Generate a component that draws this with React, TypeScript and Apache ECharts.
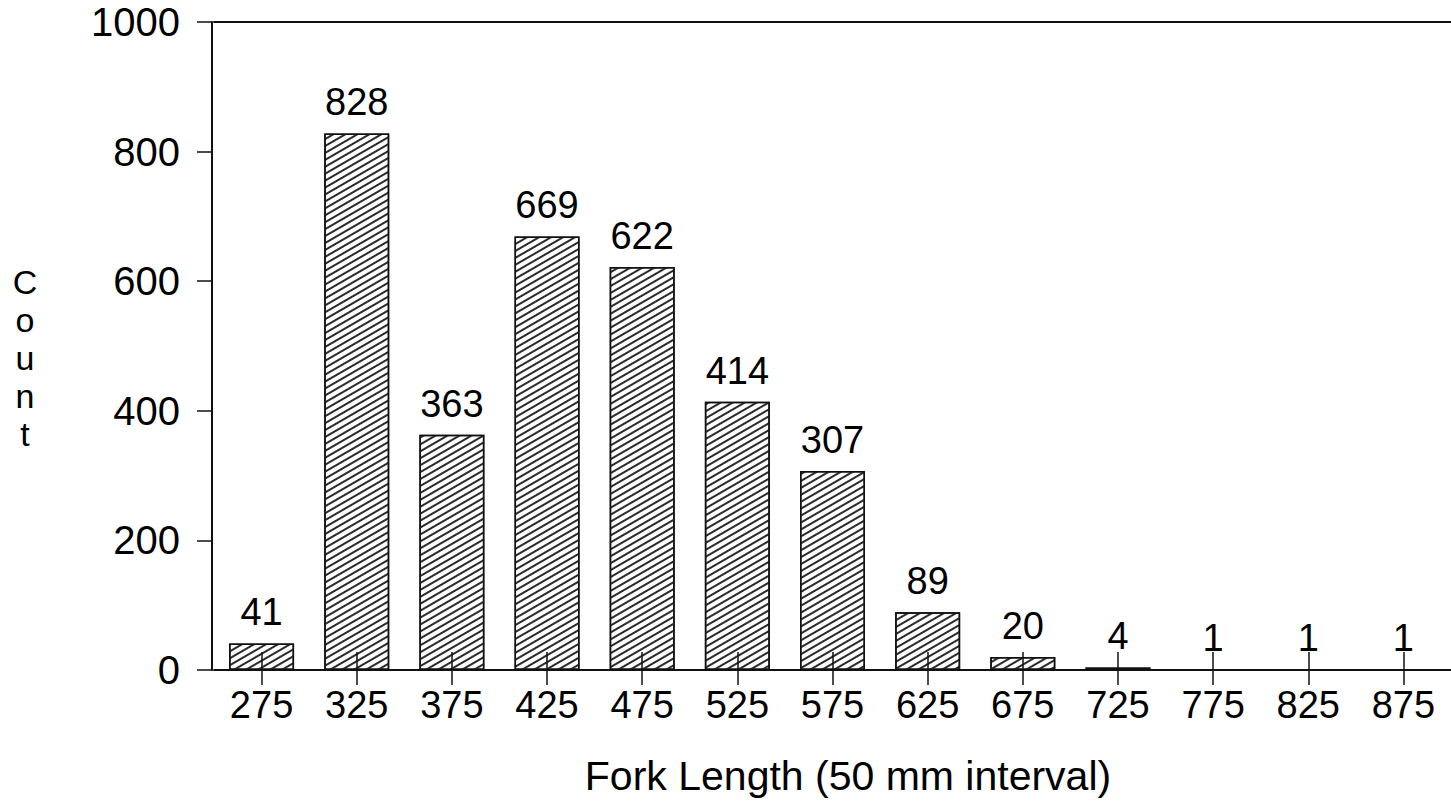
import React, { useEffect, useRef } from "react";
import * as echarts from "echarts";

const categories = ["275", "325", "375", "425", "475", "525", "575", "625", "675", "725", "775", "825", "875"];
const counts = [41, 828, 363, 669, 622, 414, 307, 89, 20, 4, 1, 1, 1];
const yMin = 0;
const yMax = 1000;
const yInterval = 200;
const xTitle = "Fork Length (50 mm interval)";
const yTitle = "Count";

const FONT = "Liberation Sans";
const INK = "#111";

export default function App() {
  const ref = useRef<HTMLDivElement>(null);
  useEffect(() => {
    const chart = echarts.init(ref.current!, null, { renderer: "svg" });
    chart.setOption({
      animation: false,
      backgroundColor: "#ffffff",
      grid: { left: 214, right: -8, top: 22, bottom: 139, containLabel: false },
      xAxis: [
        {
          type: "category",
          data: categories,
          position: "bottom",
          boundaryGap: true,
          axisLine: { show: true, lineStyle: { color: INK, width: 2 } },
          axisTick: { show: true, alignWithLabel: true, length: 15, lineStyle: { color: INK, width: 1.5 } },
          axisLabel: { show: true, margin: 16, color: "#000", fontFamily: FONT, fontSize: 38, interval: 0 },
          splitLine: { show: false },
        },
        {
          type: "category",
          data: categories,
          position: "bottom",
          boundaryGap: true,
          z: 10,
          axisLine: { show: false },
          axisTick: { show: true, inside: true, alignWithLabel: true, length: 18, lineStyle: { color: INK, width: 1.5 } },
          axisLabel: { show: false },
          splitLine: { show: false },
        },
        {
          type: "category",
          data: categories,
          position: "top",
          axisLine: { show: true, lineStyle: { color: INK, width: 2 } },
          axisTick: { show: false },
          axisLabel: { show: false },
          splitLine: { show: false },
        },
      ],
      yAxis: {
        type: "value",
        min: yMin,
        max: yMax,
        interval: yInterval,
        offset: 2,
        axisLine: { show: true, lineStyle: { color: INK, width: 2 } },
        axisTick: { show: true, length: 15, lineStyle: { color: INK, width: 1.5 } },
        axisLabel: {
          show: true,
          margin: 32,
          color: "#000",
          fontFamily: FONT,
          fontSize: 40,
          formatter: (v: number) => String(v),
        },
        splitLine: { show: false },
      },
      series: [
        {
          type: "bar",
          data: counts,
          xAxisIndex: 0,
          yAxisIndex: 0,
          barWidth: 65,
          itemStyle: {
            color: "#ffffff",
            borderColor: INK,
            borderWidth: 1.5,
            decal: {
              symbol: "rect",
              symbolSize: 1,
              color: "#2a2a2a",
              backgroundColor: "#ffffff",
              dashArrayX: [1, 0],
              dashArrayY: [1.5, 3.6],
              rotation: -Math.PI / 6,
            },
          },
          label: {
            show: true,
            position: "top",
            distance: 12,
            color: "#000",
            fontFamily: FONT,
            fontSize: 38,
          },
        },
      ],
      graphic: [
        {
          type: "text",
          x: 848,
          y: 776,
          style: {
            text: xTitle,
            fill: "#000",
            font: `41px "${FONT}"`,
            textAlign: "center",
            textVerticalAlign: "middle",
          },
        },
        {
          type: "text",
          x: 25,
          y: 358,
          style: {
            text: yTitle.split("").join("\n"),
            fill: "#000",
            font: `34px "${FONT}"`,
            lineHeight: 38,
            textAlign: "center",
            textVerticalAlign: "middle",
          },
        },
      ],
    });
    return () => chart.dispose();
  }, []);
  return (
    <div
      ref={ref}
      style={{ position: "fixed", left: 0, top: 0, width: 1451, height: 809, background: "#fff" }}
    />
  );
}
